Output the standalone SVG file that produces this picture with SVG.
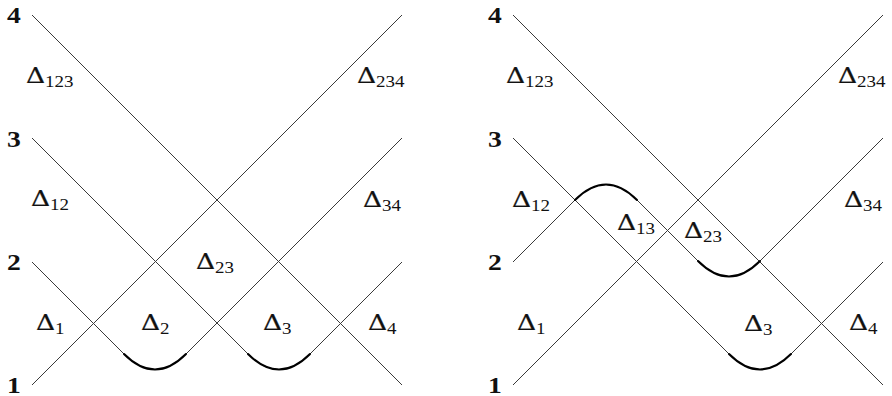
<svg xmlns="http://www.w3.org/2000/svg" width="892" height="396" viewBox="0 0 892 396">
<style>
.ln{fill:none;stroke:#3a3a3a;stroke-width:1}
.cv{fill:none;stroke:#000;stroke-width:2.1;stroke-linecap:round}
.d{font-family:"DejaVu Serif",serif;font-size:23px;fill:#111;stroke:#111;stroke-width:0.25}
.s{font-family:"Liberation Serif",serif;font-size:16.5px;stroke:none}
.n{font-family:"Liberation Serif",serif;font-size:23px;font-weight:bold;fill:#111}
</style>
<rect width="892" height="396" fill="#fff"/>
<g id="left-strands" class="connectors">
<path class="ln" d="M32,385 L402,15"/>
<path class="ln" d="M32,15 L402,385"/>
<path class="ln" d="M32,262 L124,354 Q155,385 186,354 L402,138"/>
<path class="ln" d="M32,138 L248,354 Q279,385 310,354 L402,262"/>
<path class="cv" d="M124,354 Q155,385 186,354"/>
<path class="cv" d="M248,354 Q279,385 310,354"/>
</g>
<g id="right-strands" class="connectors">
<path class="ln" d="M513,385 L883,15"/>
<path class="ln" d="M513,15 L883,385"/>
<path class="ln" d="M513,138 L729,354 Q760,385 791,354 L883,262"/>
<path class="ln" d="M513,262 L575,200 Q606,169 637,200 L698,261 Q729,292 760,261 L883,138"/>
<path class="cv" d="M729,354 Q760,385 791,354"/>
<path class="cv" d="M575,200 Q606,169 637,200"/>
<path class="cv" d="M698,261 Q729,292 760,261"/>
</g>
<g id="left-levels">
<text class="n" transform="translate(7,23) scale(1.2,1)">4</text>
<text class="n" transform="translate(7,147) scale(1.2,1)">3</text>
<text class="n" transform="translate(7,270) scale(1.2,1)">2</text>
<text class="n" transform="translate(7,393) scale(1.2,1)">1</text>
</g>
<g id="right-levels">
<text class="n" transform="translate(488,23) scale(1.2,1)">4</text>
<text class="n" transform="translate(488,147) scale(1.2,1)">3</text>
<text class="n" transform="translate(488,270) scale(1.2,1)">2</text>
<text class="n" transform="translate(488,393) scale(1.2,1)">1</text>
</g>
<g id="left-labels">
<text class="d" transform="translate(26,83) scale(1.15,1)">Δ<tspan class="s" dy="4">123</tspan></text>
<text class="d" transform="translate(357,83) scale(1.15,1)">Δ<tspan class="s" dy="4">234</tspan></text>
<text class="d" transform="translate(31,206) scale(1.15,1)">Δ<tspan class="s" dy="4">12</tspan></text>
<text class="d" transform="translate(363,207) scale(1.15,1)">Δ<tspan class="s" dy="4">34</tspan></text>
<text class="d" transform="translate(196,269) scale(1.15,1)">Δ<tspan class="s" dy="4">23</tspan></text>
<text class="d" transform="translate(36,330) scale(1.15,1)">Δ<tspan class="s" dy="4">1</tspan></text>
<text class="d" transform="translate(141,330) scale(1.15,1)">Δ<tspan class="s" dy="4">2</tspan></text>
<text class="d" transform="translate(263,330) scale(1.15,1)">Δ<tspan class="s" dy="4">3</tspan></text>
<text class="d" transform="translate(368,330) scale(1.15,1)">Δ<tspan class="s" dy="4">4</tspan></text>
</g>
<g id="right-labels">
<text class="d" transform="translate(506,83) scale(1.15,1)">Δ<tspan class="s" dy="4">123</tspan></text>
<text class="d" transform="translate(838,83) scale(1.15,1)">Δ<tspan class="s" dy="4">234</tspan></text>
<text class="d" transform="translate(512,207) scale(1.15,1)">Δ<tspan class="s" dy="4">12</tspan></text>
<text class="d" transform="translate(617,230) scale(1.15,1)">Δ<tspan class="s" dy="4">13</tspan></text>
<text class="d" transform="translate(684,238) scale(1.15,1)">Δ<tspan class="s" dy="4">23</tspan></text>
<text class="d" transform="translate(844,207) scale(1.15,1)">Δ<tspan class="s" dy="4">34</tspan></text>
<text class="d" transform="translate(517,330) scale(1.15,1)">Δ<tspan class="s" dy="4">1</tspan></text>
<text class="d" transform="translate(744,331) scale(1.15,1)">Δ<tspan class="s" dy="4">3</tspan></text>
<text class="d" transform="translate(849,330) scale(1.15,1)">Δ<tspan class="s" dy="4">4</tspan></text>
</g>
</svg>
